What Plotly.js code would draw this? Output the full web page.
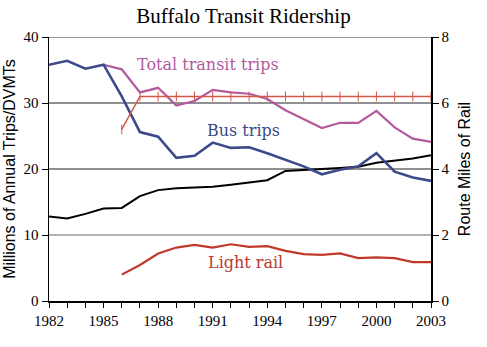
<!DOCTYPE html>
<html><head><meta charset="utf-8">
<script src="https://cdn.plot.ly/plotly-3.0.1.min.js"></script>
<style>html,body{margin:0;padding:0;background:#fff}</style>
</head><body><div id="chart" style="width:487px;height:347px"></div>
<script>
const years = [1982,1983,1984,1985,1986,1987,1988,1989,1990,1991,1992,1993,1994,1995,1996,1997,1998,1999,2000,2001,2002,2003];
const busTrips = [35.8,36.4,35.2,35.8,31.0,25.6,24.9,21.7,22.0,24.0,23.2,23.3,22.4,21.4,20.4,19.2,19.9,20.4,22.4,19.6,18.7,18.2];
const totalYears = years.slice(3);
const totalTrips = [35.8,35.1,31.6,32.3,29.6,30.3,32.0,31.6,31.4,30.6,28.9,27.6,26.2,27.0,27.0,28.8,26.3,24.6,24.1];
const driving = [12.8,12.5,13.2,14.0,14.1,15.9,16.8,17.1,17.2,17.3,17.6,18.0,18.3,19.7,19.8,20.0,20.15,20.35,20.95,21.3,21.6,22.1];
const railYears = years.slice(4);
const lightRail = [4.0,5.45,7.2,8.1,8.5,8.1,8.6,8.2,8.3,7.6,7.1,7.0,7.2,6.5,6.6,6.5,5.9,5.9];
const routeMiles = [5.2,6.2,6.2,6.2,6.2,6.2,6.2,6.2,6.2,6.2,6.2,6.2,6.2,6.2,6.2,6.2,6.2,6.2];
const xTickVals = [1982,1985,1988,1991,1994,1997,2000,2003];
const labels = [
  {text:'Total transit trips', x:1986.75, y:35.9, color:'#b35a9e'},
  {text:'Bus trips', x:1990.55, y:25.8, color:'#3d4a8a'},
  {text:'Driving', x:1980.65, y:16.4, color:'#000000'},
  {text:'Light rail', x:1990.65, y:5.8, color:'#b83a30'}
];

const serif = 'Liberation Serif, Times New Roman, serif';
const labelFont = 'DejaVu Serif, serif';
const sans = 'Liberation Sans, Arial, sans-serif';
const traces = [
  {x: years, y: driving, mode:'lines', line:{color:'#000', width:2}, hoverinfo:'skip'},
  {x: railYears, y: lightRail, mode:'lines', line:{color:'#c0392b', width:2.2}, hoverinfo:'skip'},
  {x: railYears, y: routeMiles, yaxis:'y2', mode:'lines+markers', line:{color:'#d6564a', width:1.5},
   marker:{symbol:'line-ns-open', size:7, color:'#d6564a', line:{color:'#d6564a', width:1}}, hoverinfo:'skip'},
  {x: totalYears, y: totalTrips, mode:'lines', line:{color:'#b35a9e', width:2.2}, hoverinfo:'skip'},
  {x: years, y: busTrips, mode:'lines', line:{color:'#3d4a8a', width:2.6}, hoverinfo:'skip'}
];

const layout = {
  width:487, height:347,
  margin:{l:49, r:56, t:37, b:46},
  paper_bgcolor:'#fff', plot_bgcolor:'#fff',
  showlegend:false,
  font:{family:serif, color:'#000', size:15},
  title:{text:'Buffalo Transit Ridership', x:0.5, xanchor:'center', y:0.955, yanchor:'middle', font:{family:serif, size:21, color:'#000'}},
  xaxis:{range:[1982,2003], tickmode:'array', tickvals:xTickVals, ticktext:xTickVals.map(String),
    showgrid:false, zeroline:false, showline:true, linecolor:'#000', linewidth:1.5,
    ticks:'outside', ticklen:5, tickcolor:'#000',
    minor:{dtick:1, ticks:'outside', ticklen:5, tickcolor:'#000', showgrid:false},
    tickfont:{family:serif, size:15}},
  yaxis:{range:[0,40], tickvals:[0,10,20,30,40], showgrid:false, zeroline:false,
    showline:true, linecolor:'#000', linewidth:1.5, ticks:'outside', ticklen:6, tickcolor:'#000',
    tickfont:{family:serif, size:15},
    title:{text:'Millions of Annual Trips/DVMTs', font:{family:sans, size:16}, standoff:4}},
  yaxis2:{range:[0,8], tickvals:[0,2,4,6,8], overlaying:'y', side:'right', showgrid:false, zeroline:false,
    showline:true, linecolor:'#000', linewidth:1.5, ticks:'outside', ticklen:6, tickcolor:'#000',
    tickfont:{family:serif, size:15},
    title:{text:'Route Miles of Rail', font:{family:sans, size:16}, standoff:10}},
  shapes:[
    {type:'line', xref:'paper', x0:0, x1:1, yref:'y', y0:40, y1:40, line:{color:'#999', width:2}, layer:'below'},
    {type:'line', xref:'paper', x0:0, x1:1, yref:'y', y0:30, y1:30, line:{color:'#222', width:1.2}, layer:'below'},
    {type:'line', xref:'paper', x0:0, x1:1, yref:'y', y0:20, y1:20, line:{color:'#222', width:1.2}, layer:'below'},
    {type:'line', xref:'paper', x0:0, x1:1, yref:'y', y0:10, y1:10, line:{color:'#999', width:1.5}, layer:'below'}
  ],
  annotations: labels.map(l => ({text:l.text, x:l.x, y:l.y, xref:'x', yref:'y', showarrow:false,
    xanchor:'left', yanchor:'middle', font:{family:labelFont, size:16, color:l.color}}))
};
Plotly.newPlot('chart', traces, layout, {staticPlot:true, displayModeBar:false});
</script>
</body></html>
